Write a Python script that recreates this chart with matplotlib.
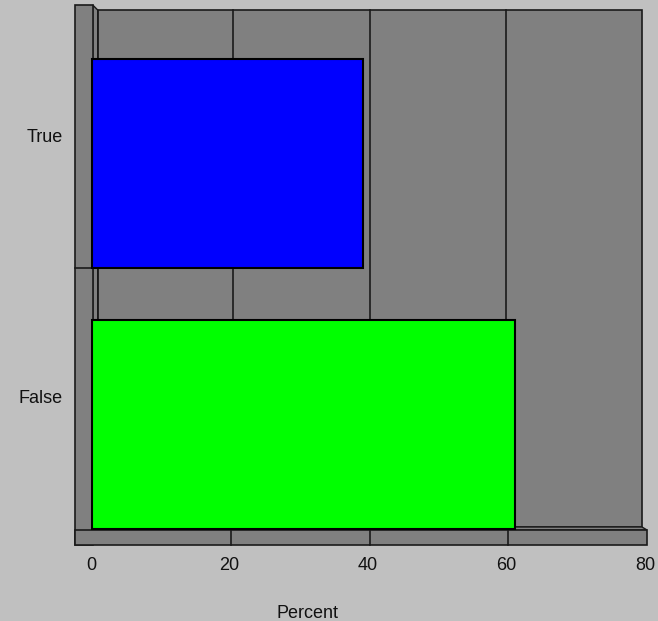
import matplotlib
matplotlib.use("Agg")
import matplotlib.pyplot as plt
import matplotlib.transforms as mtransforms
from matplotlib.patches import Rectangle, Polygon

plt.rcParams["font.family"] = ["Liberation Sans", "DejaVu Sans"]

# data
categories = ["True", "False"]
percents = [39.0, 61.0]
bar_colors = ["#0000ff", "#00ff00"]
xticks = [0, 20, 40, 60, 80]
xlabel = "Percent"

W, H = 658, 621
BG = "#c0c0c0"
WALL = "#808080"
EDGE = "#1a1a1a"
FS = 13

fig = plt.figure(figsize=(W / 100, H / 100), dpi=100)
fig.patch.set_facecolor(BG)
ax = fig.add_axes([0, 0, 1, 1])
ax.axis("off")

# front scale: 0 -> 92.5 px, 6.925 px per unit; category spacing 261 px
x0_px, x_unit = 92.5, 6.925
y0_px, y_unit = 163.5, 261.0
ax.set_xlim(-x0_px / x_unit, (W - x0_px) / x_unit)
ax.set_ylim((H - y0_px) / y_unit, -y0_px / y_unit)

# pixel transform (origin top-left)
px = mtransforms.Affine2D().scale(1 / W, -1 / H).translate(0, 1) + fig.transFigure

# back wall
ax.add_patch(Rectangle((97.7, 10), 642 - 97.7, 527 - 10, transform=px,
                       facecolor=WALL, edgecolor=EDGE, lw=1.2, zorder=1))
# left wall side face
ax.add_patch(Polygon([(92.7, 5), (97.7, 10), (97.7, 527), (92.7, 530)], closed=True,
                     transform=px, facecolor=WALL, edgecolor=EDGE, lw=1.0, zorder=1))
# floor top face
ax.add_patch(Polygon([(92.7, 530), (97.7, 527), (642, 527), (647, 530)], closed=True,
                     transform=px, facecolor=WALL, edgecolor=EDGE, lw=1.0, zorder=1))
# left wall front face
ax.add_patch(Rectangle((75, 5), 92.7 - 75, 545 - 5, transform=px,
                       facecolor=WALL, edgecolor=EDGE, lw=1.2, zorder=2))
# floor front face
ax.add_patch(Rectangle((75, 530), 647 - 75, 545 - 530, transform=px,
                       facecolor=WALL, edgecolor=EDGE, lw=1.2, zorder=2))

# category divider on left wall
ax.plot([75, 92.7, 97.7], [268, 268, 266], transform=px, color=EDGE, lw=1.2, zorder=3)

# gridlines on back wall (slightly compressed back scale)
back_x0, back_unit = 96.5, 6.825
for v in xticks[1:-1]:
    xb = back_x0 + back_unit * v
    ax.plot([xb, xb], [10, 527], transform=px, color=EDGE, lw=1.2, zorder=1.5)
    xf = x0_px + x_unit * v
    ax.plot([xf, xf], [530, 545], transform=px, color=EDGE, lw=1.2, zorder=3)

# bars
ypos = list(range(len(categories)))
ax.barh(ypos, percents, height=0.8, left=0, color=bar_colors,
        edgecolor="black", linewidth=1.5, zorder=4)

# tick labels
bx = mtransforms.blended_transform_factory(ax.transData, px)
for v in xticks:
    ax.text(v - 0.2, 565, str(v), transform=bx, ha="center", va="center",
            fontsize=FS, color="#111111")

by = mtransforms.blended_transform_factory(px, ax.transData)
for i, c in enumerate(categories):
    ax.text(63, i - 0.1, c, transform=by, ha="right", va="center",
            fontsize=FS, color="#111111")

ax.text(307, 613, xlabel, transform=px, ha="center", va="center",
        fontsize=FS, color="#111111")

fig.savefig("out.png", dpi=100, facecolor=BG)
